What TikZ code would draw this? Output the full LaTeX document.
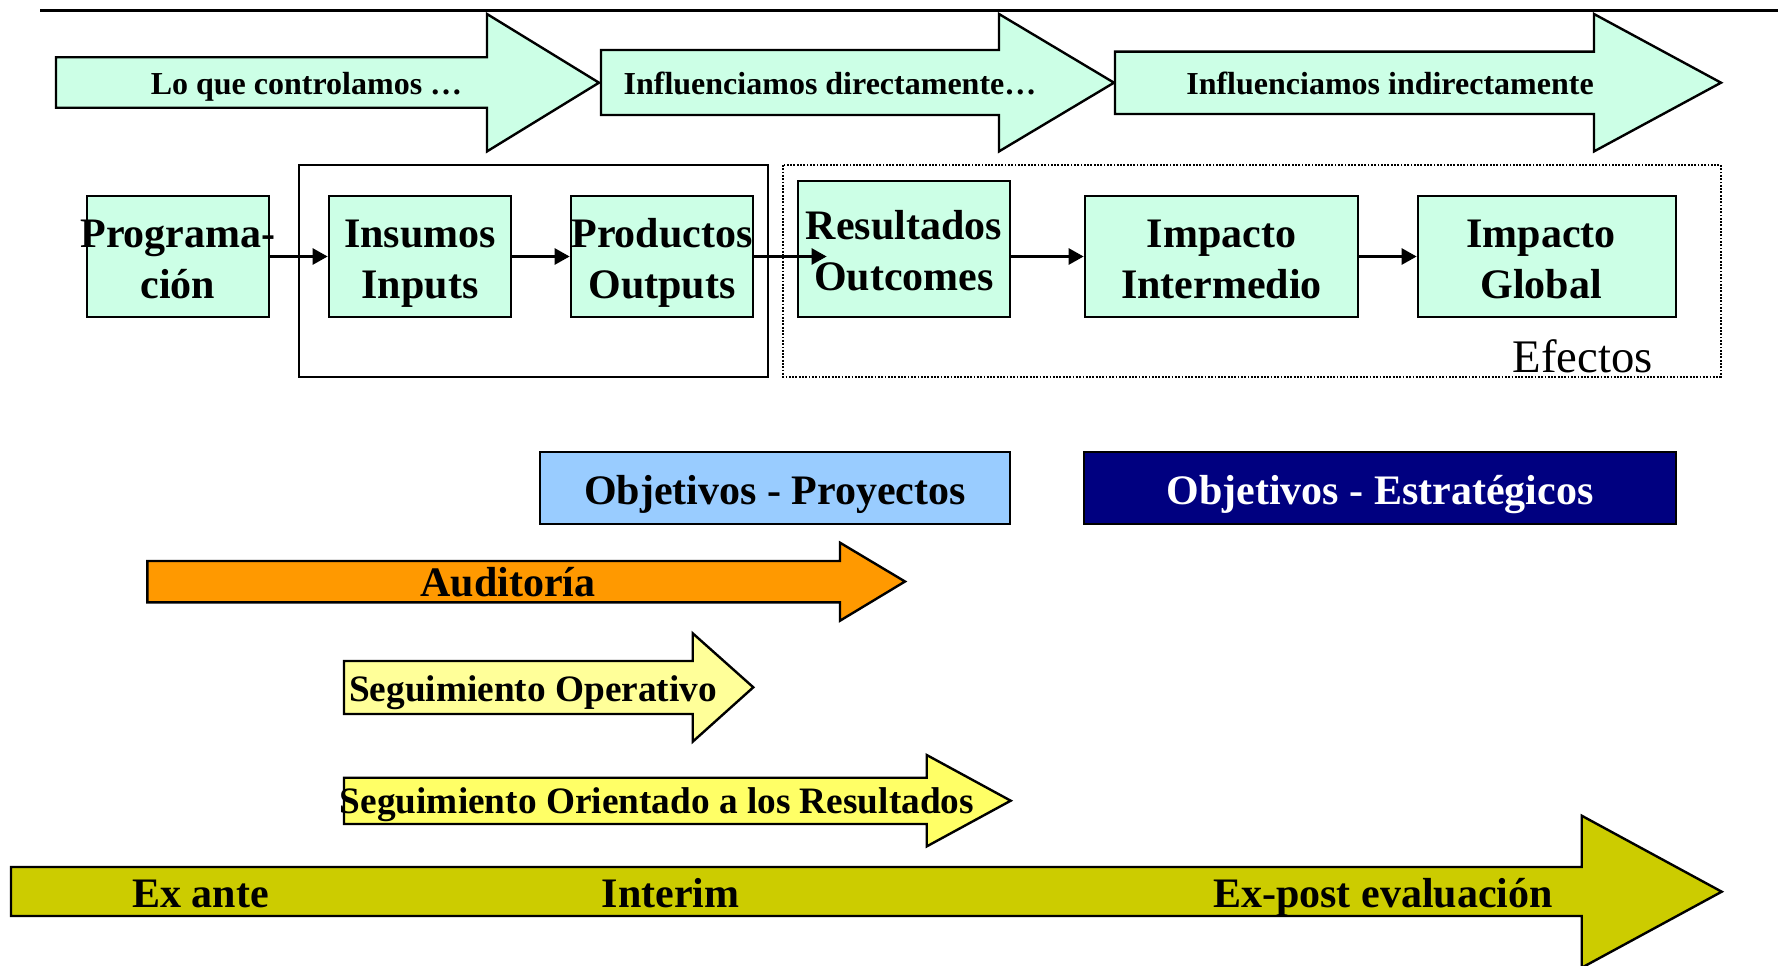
\documentclass[tikz,border=0pt]{standalone}
\usepackage{fontspec}
\setmainfont{Liberation Serif}
\usetikzlibrary{arrows.meta}
\definecolor{mint}{HTML}{CCFFE6}
\definecolor{skyb}{HTML}{99CCFF}
\definecolor{navyb}{HTML}{000080}
\definecolor{orng}{HTML}{FF9900}
\definecolor{lyel}{HTML}{FFFF99}
\definecolor{myel}{HTML}{FFFF66}
\definecolor{olive}{HTML}{CCCC00}
\newcommand\fB{\fontsize{42}{51}\selectfont\bfseries}
\newcommand\fT{\fontsize{32}{38}\selectfont\bfseries}
\newcommand\fS{\fontsize{37.3}{44}\selectfont\bfseries}
\newcommand\fE{\fontsize{46.7}{56}\selectfont}
\newcommand\bl[1]{\makebox[0pt]{\rule[-9.5pt]{0pt}{51pt}#1}}
\begin{document}
\begin{tikzpicture}[x=1pt,y=-1pt,
  bigarrow/.style={draw=black, line width=2.4pt, line join=miter},
  box/.style={draw=black, line width=2.7pt, fill=mint, inner sep=0pt, align=center, font=\fB},
  objbox/.style={draw=black, line width=2.7pt, inner sep=0pt, font=\fB, text height=40pt, text depth=8pt},
  conn/.style={draw=black, line width=2.7pt, -{Triangle[length=15pt,width=16pt]}},
  lbl/.style={anchor=base, inner sep=0pt}]
\useasboundingbox (0,0) rectangle (1778,966);

% top rule
\coordinate (ruleL) at (40,10.7);
\coordinate (ruleR) at (1778,10.7);
\draw[line width=2.7pt] (ruleL) -- (ruleR);

% top block arrows
\filldraw[bigarrow, fill=mint] (56,57.3) -- (487,57.3) -- (487,14) -- (599,82.7) -- (487,151.4) -- (487,107.7) -- (56,107.7) -- cycle;
\filldraw[bigarrow, fill=mint] (601,50) -- (999,50) -- (999,14) -- (1114,82.7) -- (999,151.4) -- (999,115) -- (601,115) -- cycle;
\filldraw[bigarrow, fill=mint] (1115,51.7) -- (1594,51.7) -- (1594,14) -- (1721,82.7) -- (1594,151.4) -- (1594,114) -- (1115,114) -- cycle;
\node[lbl, font=\fT] (a1t) at (306.5,94) {Lo que controlamos …};
\node[lbl, font=\fT] (a2t) at (830,94) {Influenciamos directamente…};
\node[lbl, font=\fT] (a3t) at (1390,94) {Influenciamos indirectamente};

% grouping frames
\draw[line width=2.7pt] (299,165) rectangle (768,377);
\draw[line width=1.8pt, dash pattern=on 1.8pt off 1.5pt] (782.7,165) rectangle (1720.7,376.7);

% chain boxes
\node[box, minimum width=182pt, minimum height=121pt] (prog) at (178,256.5) {\bl{Programa-}\\\bl{ción}};
\node[box, minimum width=182pt, minimum height=121pt] (ins) at (420,256.5) {\bl{Insumos}\\\bl{Inputs}};
\node[box, minimum width=182pt, minimum height=121pt] (prod) at (662,256.5) {\bl{Productos}\\\bl{Outputs}};
\node[box, minimum width=212pt, minimum height=136pt] (res) at (904,249) {\bl{Resultados}\\\bl{Outcomes}};
\node[box, minimum width=273pt, minimum height=121pt] (int) at (1221.5,256.5) {\bl{Impacto}\\\bl{Intermedio}};
\node[box, minimum width=258pt, minimum height=121pt] (glob) at (1547,256.5) {\bl{Impacto\hspace{12pt}}\\\bl{Global\hspace{12pt}}};
\node[lbl, font=\fE] (efe) at (1582.5,372) {Efectos};

% connectors
\draw[conn] (prog.east) -- (ins.west);
\draw[conn] (ins.east) -- (prod.west);
\draw[conn] (prod.east) -- ([xshift=30pt]prod.east -| res.west);
\draw[conn] (res.east |- int.west) -- (int.west);
\draw[conn] (int.east) -- (glob.west);

% objectives
\node[objbox, fill=skyb, minimum width=470pt, minimum height=72pt] (objp) at (775,488) {Objetivos - Proyectos};
\node[objbox, fill=navyb, text=white, minimum width=592pt, minimum height=72pt] (obje) at (1380,488) {Objetivos - Estratégicos};

% lower block arrows
\filldraw[bigarrow, fill=orng] (147.3,561) -- (840,561) -- (840,542.7) -- (905,581.5) -- (840,620.7) -- (840,602.3) -- (147.3,602.3) -- cycle;
\node[lbl, font=\fB] (aud) at (508,596.5) {Auditoría};

\filldraw[bigarrow, fill=lyel] (344,661) -- (692.7,661) -- (692.7,633.3) -- (753.3,687.3) -- (692.7,741.7) -- (692.7,714) -- (344,714) -- cycle;
\node[lbl, font=\fS] (sop) at (533,701) {Seguimiento Operativo};

\filldraw[bigarrow, fill=myel] (344,777.7) -- (926.7,777.7) -- (926.7,755) -- (1010.7,800.7) -- (926.7,846.4) -- (926.7,824) -- (344,824) -- cycle;
\node[lbl, font=\fS] (sor) at (657,813.3) {Seguimiento Orientado a los Resultados};

\filldraw[bigarrow, fill=olive] (11,867) -- (1581.7,867) -- (1581.7,815.7) -- (1721.7,891.7) -- (1581.7,967.7) -- (1581.7,916) -- (11,916) -- cycle;
\node[lbl, font=\fB] (exa) at (200.5,907) {Ex ante};
\node[lbl, font=\fB] (itr) at (670.5,907) {Interim};
\node[lbl, font=\fB] (exp) at (1383,907) {Ex-post evaluación};
\end{tikzpicture}
\end{document}
